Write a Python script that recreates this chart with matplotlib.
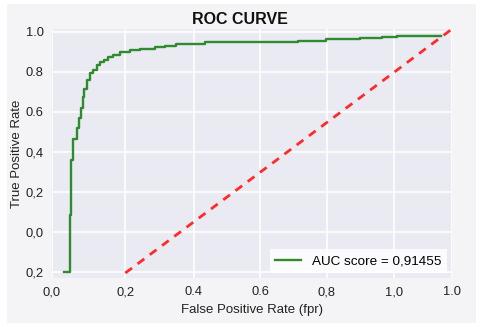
import matplotlib.pyplot as plt
from matplotlib.patches import Rectangle

plt.rcParams['font.family'] = ['Liberation Sans', 'DejaVu Sans']

# roc curve (x in the chart's own axis units)
fpr = [0.036, 0.054, 0.057, 0.063, 0.075, 0.081, 0.087, 0.0915, 0.096, 0.105,
       0.114, 0.123, 0.135, 0.144, 0.156, 0.168, 0.183, 0.204, 0.234, 0.264,
       0.309, 0.339, 0.372, 0.459, 0.738, 0.822, 0.924, 0.99, 1.035, 1.167]
tpr = [-0.2, 0.085, 0.36, 0.465, 0.52, 0.57, 0.62, 0.675, 0.715, 0.76,
       0.795, 0.81, 0.835, 0.85, 0.86, 0.875, 0.885, 0.898, 0.91, 0.915,
       0.923, 0.93, 0.94, 0.948, 0.955, 0.963, 0.968, 0.973, 0.98, 0.98]
# dashed reference line
diag_x = [0.22, 1.2]
diag_y = [-0.205, 1.015]

auc_label = "AUC score = 0,91455"
xtick_pos = [0, 0.22, 0.425, 0.625, 0.825, 1.025, 1.2]
xtick_labels = ["0,0", "0,2", "0.4", "0.6", "0,8", "1,0", "1.0"]
ytick_pos = [-0.2, 0.0, 0.2, 0.4, 0.6, 0.8, 1.0]
ytick_labels = ["0,2", "0,0", "0,2", "0,4", "0.6", "0.8", "1.0"]

fig = plt.figure(figsize=(4.8, 3.27), dpi=100, facecolor="white")
# light grey card behind the plot
card = Rectangle((7 / 480, 1 - 323 / 327), 469 / 480, 319 / 327,
                 transform=fig.transFigure, facecolor="#f4f4f6",
                 edgecolor="none", zorder=-10)
fig.add_artist(card)
ax = fig.add_axes([52 / 480, 1 - 278 / 327, 400 / 480, 249 / 327])
ax.set_zorder(1)
ax.set_facecolor("#eaeaf2")

ax.step(fpr, tpr, where="post", color="#2e8b2e", lw=1.7, label=auc_label)
ax.plot(diag_x, diag_y, color="#ff2a2a", lw=2, linestyle=(0, (3, 2.5)))

ax.set_xlim(0, 1.2)
ax.set_ylim(-0.23, 1.015)
ax.set_xticks(xtick_pos, xtick_labels)
ax.set_yticks(ytick_pos, ytick_labels)
ax.tick_params(length=0, labelsize=9.3, pad=6, colors="#222222")
ax.grid(color="white", lw=1.2)
ax.set_axisbelow(True)
for s in ax.spines.values():
    s.set_visible(False)

ax.set_xlabel("False Positive Rate (fpr)", fontsize=9.5, color="#222222", labelpad=4)
ax.set_ylabel("True Positive Rate", fontsize=9.5, color="#222222", labelpad=2)
fig.text(0.5, 1 - 19 / 327, "ROC CURVE", ha="center", va="center",
         fontsize=11.5, fontweight="bold", color="#111111")

leg = ax.legend(loc="lower right", fontsize=9.7, frameon=True, fancybox=False,
                borderaxespad=0.4, handlelength=1.9)
leg.get_frame().set_facecolor("white")
leg.get_frame().set_edgecolor("none")
leg.get_frame().set_alpha(0.85)

fig.savefig("out.png", dpi=100)
